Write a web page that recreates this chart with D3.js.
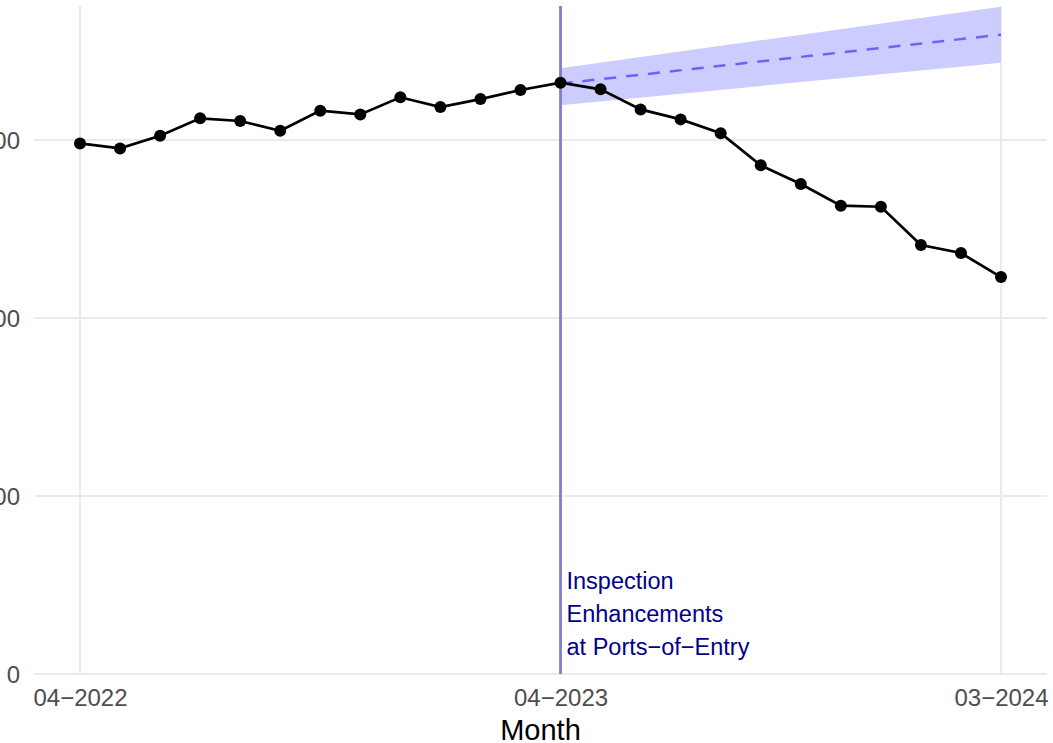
<!DOCTYPE html>
<html>
<head>
<meta charset="utf-8">
<script src="https://cdn.jsdelivr.net/npm/d3@7"></script>
<style>
  body { margin: 0; background: #fff; }
  svg { display: block; font-family: "Liberation Sans", Arial, sans-serif; }
</style>
</head>
<body>
<div id="chart"></div>
<script>
// Monthly series, 04-2022 .. 03-2024
const months = ["04−2022", "05−2022", "06−2022", "07−2022", "08−2022", "09−2022",
                "10−2022", "11−2022", "12−2022", "01−2023", "02−2023", "03−2023",
                "04−2023", "05−2023", "06−2023", "07−2023", "08−2023", "09−2023",
                "10−2023", "11−2023", "12−2023", "01−2024", "02−2024", "03−2024"];
const observed = [298.1, 295.3, 302.4, 312.2, 310.7, 305.2, 316.5, 314.4, 324.0, 318.5, 323.0, 328.1,
                  332.2, 328.5, 317.2, 311.6, 303.8, 285.8, 275.3, 263.1, 262.5, 241.0, 236.5, 223.0];

// Counterfactual trend after the intervention (start and end month)
const forecastMonths = ["04−2023", "03−2024"];
const forecastFit = [331.7, 359.2];
const forecastLow = [319.5, 343.4];
const forecastHigh = [340.3, 374.9];

const interventionMonth = "04−2023";
const interventionLabel = ["Inspection", "Enhancements", "at Ports−of−Entry"];

const xTicks = ["04−2022", "04−2023", "03−2024"];
const yTicks = [0, 100, 200, 300];

const width = 1053, height = 743;

const svg = d3.select("#chart").append("svg")
    .attr("width", width)
    .attr("height", height);

// scales (month index on x)
const x = d3.scaleLinear()
    .domain([0, months.length - 1])
    .range([80, 1001]);
const xm = m => x(months.indexOf(m));

const y = d3.scaleLinear()
    .domain([0, 375.3])
    .range([674, 6]);

const panelLeft = 34, panelRight = 1047;

// gridlines
svg.append("g")
    .selectAll("line")
    .data(yTicks)
    .join("line")
    .attr("x1", panelLeft).attr("x2", panelRight)
    .attr("y1", d => y(d)).attr("y2", d => y(d))
    .attr("stroke", "#ebebeb")
    .attr("stroke-width", 2);

svg.append("g")
    .selectAll("line")
    .data(xTicks)
    .join("line")
    .attr("x1", d => xm(d)).attr("x2", d => xm(d))
    .attr("y1", y(0)).attr("y2", y.range()[1])
    .attr("stroke", "#ebebeb")
    .attr("stroke-width", 2);

// axes text (y labels run off the left edge, as in the original crop)
const yAxis = svg.append("g")
    .attr("transform", "translate(20,0)")
    .call(d3.axisLeft(y).tickValues(yTicks).tickSize(0).tickPadding(0).tickFormat(d3.format("d")));
yAxis.select(".domain").remove();
yAxis.selectAll("text")
    .attr("fill", "#4d4d4d")
    .style("font-size", "24px")
    .attr("dy", "0.36em");

const xAxis = svg.append("g")
    .attr("transform", `translate(0,${y(0)})`)
    .call(d3.axisBottom(x)
        .tickValues(xTicks.map(m => months.indexOf(m)))
        .tickSize(0).tickPadding(0)
        .tickFormat(i => months[i]));
xAxis.select(".domain").remove();
xAxis.selectAll("text")
    .attr("fill", "#4d4d4d")
    .style("font-size", "24px")
    .attr("y", 32)
    .attr("dy", 0);

svg.append("text")
    .attr("x", (panelLeft + panelRight) / 2)
    .attr("y", 740)
    .attr("text-anchor", "middle")
    .attr("fill", "#000")
    .style("font-size", "29px")
    .text("Month");

// forecast band + trend
const fc = forecastMonths.map((m, i) => ({ m, fit: forecastFit[i], lo: forecastLow[i], hi: forecastHigh[i] }));

svg.append("path")
    .datum(fc)
    .attr("fill", "#ccccff")
    .attr("d", d3.area().x(d => xm(d.m)).y0(d => y(d.lo)).y1(d => y(d.hi)));

svg.append("path")
    .datum(fc)
    .attr("fill", "none")
    .attr("stroke", "#6666ff")
    .attr("stroke-width", 2.5)
    .attr("stroke-dasharray", "12,10")
    .attr("d", d3.line().x(d => xm(d.m)).y(d => y(d.fit)));

// intervention line
svg.append("line")
    .attr("x1", xm(interventionMonth)).attr("x2", xm(interventionMonth))
    .attr("y1", y.range()[1]).attr("y2", y(0))
    .attr("stroke", "#7f7fc5")
    .attr("stroke-width", 2.8);

svg.append("text")
    .attr("fill", "#00008b")
    .style("font-size", "23.5px")
    .selectAll("tspan")
    .data(interventionLabel)
    .join("tspan")
    .attr("x", xm(interventionMonth) + 6)
    .attr("y", (d, i) => 589 + i * 33)
    .text(d => d);

// observed series
const pts = observed.map((v, i) => ({ m: months[i], v }));

svg.append("path")
    .datum(pts)
    .attr("fill", "none")
    .attr("stroke", "#000")
    .attr("stroke-width", 2.7)
    .attr("d", d3.line().x(d => xm(d.m)).y(d => y(d.v)));

svg.append("g")
    .selectAll("circle")
    .data(pts)
    .join("circle")
    .attr("cx", d => xm(d.m))
    .attr("cy", d => y(d.v))
    .attr("r", 6)
    .attr("fill", "#000");
</script>
</body>
</html>
